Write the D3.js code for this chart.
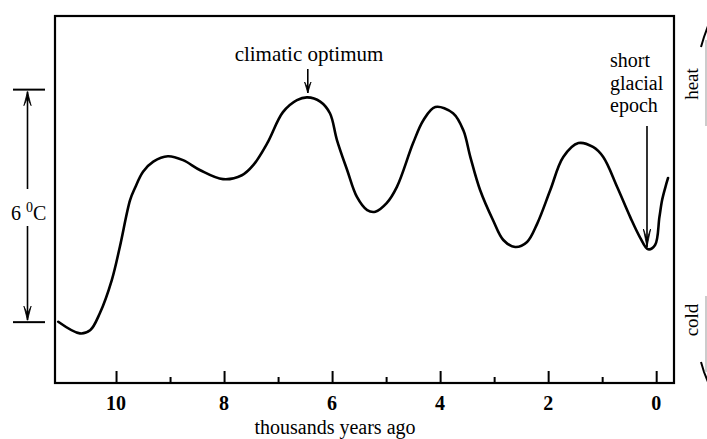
<!DOCTYPE html>
<html>
<head>
<meta charset="utf-8">
<script src="https://cdn.jsdelivr.net/npm/d3@7"></script>
<style>
  html, body { margin: 0; padding: 0; background: #fff; }
  svg { display: block; }
  text { font-family: "Liberation Serif", "Times New Roman", serif; fill: #000; }
</style>
</head>
<body>
<svg id="chart" width="707" height="439"></svg>
<script>
// ---- data (thousands of years ago, relative temperature in °C) ----
const years = [11.07, 10.67, 10.48, 10.30, 10.08, 9.93, 9.74, 9.65, 9.50, 9.31, 9.04, 8.76, 8.44, 8.02, 7.67, 7.46, 7.20, 6.91, 6.65, 6.46, 6.22, 6.04, 5.91, 5.72, 5.54, 5.35, 5.20, 4.99, 4.80, 4.50, 4.31, 4.09, 3.76, 3.57, 3.44, 3.26, 3.02, 2.83, 2.61, 2.39, 2.20, 1.96, 1.72, 1.44, 1.17, 0.98, 0.72, 0.48, 0.30, 0.15, 0.02, -0.06, -0.11, -0.17, -0.22];
const temps = [0.01, -0.29, -0.21, 0.23, 1.08, 1.94, 3.15, 3.46, 3.88, 4.14, 4.28, 4.18, 3.92, 3.69, 3.79, 4.05, 4.62, 5.42, 5.73, 5.80, 5.69, 5.39, 4.70, 3.92, 3.23, 2.89, 2.85, 3.07, 3.49, 4.62, 5.21, 5.55, 5.39, 4.95, 4.26, 3.41, 2.63, 2.12, 1.94, 2.07, 2.55, 3.41, 4.26, 4.62, 4.52, 4.26, 3.48, 2.71, 2.19, 1.88, 1.99, 2.71, 3.15, 3.48, 3.72];
const majorTicks = [10, 8, 6, 4, 2, 0];
const minorTicks = [9, 7, 5, 3, 1];
const tickLabels = ["10", "8", "6", "4", "2", "0"];
const xTitle = "thousands years ago";
const bracketRange = [0, 6];          // the "6 °C" span
const optimumYear = 6.45;             // climatic optimum arrow
const glacialYear = 0.17;             // short glacial epoch arrow

// ---- layout ----
const box = { left: 55, right: 674, top: 16, bottom: 383 };
const svg = d3.select("#chart");

const x = d3.scaleLinear().domain([11.13, -0.33]).range([box.left, box.right]);
const y = d3.scaleLinear().domain([-1.57, 7.9]).range([box.bottom, box.top]);

// frame
svg.append("rect")
  .attr("x", box.left).attr("y", box.top)
  .attr("width", box.right - box.left).attr("height", box.bottom - box.top)
  .attr("fill", "none").attr("stroke", "#000").attr("stroke-width", 2.2);

// ticks (pointing inward)
const axisG = svg.append("g").attr("transform", `translate(0,${box.bottom})`);
const major = d3.axisTop(x).tickValues(majorTicks).tickSize(12).tickFormat("");
const minor = d3.axisTop(x).tickValues(minorTicks).tickSize(6).tickFormat("");
axisG.append("g").call(major).call(g => g.select(".domain").remove())
  .selectAll("line").attr("stroke", "#000").attr("stroke-width", 2);
axisG.append("g").call(minor).call(g => g.select(".domain").remove())
  .selectAll("line").attr("stroke", "#000").attr("stroke-width", 2);

// tick labels
svg.append("g").selectAll("text").data(majorTicks).join("text")
  .attr("x", d => x(d)).attr("y", 410)
  .attr("text-anchor", "middle")
  .attr("font-size", 20).attr("font-weight", "bold")
  .text((d, i) => tickLabels[i]);

// axis title
svg.append("text")
  .attr("x", 335).attr("y", 434)
  .attr("text-anchor", "middle").attr("font-size", 20)
  .text(xTitle);

// curve
const pts = years.map((yr, i) => [yr, temps[i]]);
const line = d3.line().x(d => x(d[0])).y(d => y(d[1])).curve(d3.curveCatmullRom.alpha(0.5));
svg.append("path").datum(pts)
  .attr("d", line)
  .attr("fill", "none").attr("stroke", "#000").attr("stroke-width", 2.6)
  .attr("stroke-linejoin", "round").attr("stroke-linecap", "round");

// arrow helper: line from (x1,y1) to (x2,y2) with V head at (x2,y2)
function arrow(g, x1, y1, x2, y2, headLen, headW, sw) {
  g.append("line").attr("x1", x1).attr("y1", y1).attr("x2", x2).attr("y2", y2)
    .attr("stroke", "#000").attr("stroke-width", sw);
  const ang = Math.atan2(y2 - y1, x2 - x1);
  const bx = x2 - headLen * Math.cos(ang), by = y2 - headLen * Math.sin(ang);
  const px = -Math.sin(ang) * headW, py = Math.cos(ang) * headW;
  g.append("path")
    .attr("d", `M${bx + px},${by + py} L${x2},${y2} L${bx - px},${by - py} L${x2 - (headLen*0.45)*Math.cos(ang)},${y2 - (headLen*0.45)*Math.sin(ang)} Z`)
    .attr("fill", "#000").attr("stroke", "#000").attr("stroke-width", 0.8).attr("stroke-linejoin", "miter");
}

// left "6 °C" bracket
const ann = svg.append("g");
const yTop = y(bracketRange[1]), yBot = y(bracketRange[0]);
[yTop, yBot].forEach(v => ann.append("line")
  .attr("x1", 13).attr("x2", 45).attr("y1", v).attr("y2", v)
  .attr("stroke", "#000").attr("stroke-width", 2));
arrow(ann, 27.5, 189, 27.5, yTop + 2, 14, 3.6, 1.6);
arrow(ann, 27.5, 226, 27.5, yBot - 2, 14, 3.6, 1.6);
const lbl = ann.append("text").attr("x", 11).attr("y", 220).attr("font-size", 20);
lbl.append("tspan").text("6 ");
lbl.append("tspan").attr("font-size", 14).attr("dy", -8).text("0");
lbl.append("tspan").attr("dy", 8).text("C");

// climatic optimum
svg.append("text").attr("x", 309).attr("y", 61)
  .attr("text-anchor", "middle").attr("font-size", 21)
  .text("climatic optimum");
arrow(svg, x(optimumYear), 69, x(optimumYear), 93, 11, 3.2, 1.6);

// short glacial epoch
const ge = svg.append("text").attr("x", 610).attr("y", 67).attr("font-size", 20);
["short", "glacial", "epoch"].forEach((t, i) =>
  ge.append("tspan").attr("x", 610).attr("dy", i === 0 ? 0 : 22.5).text(t));
arrow(svg, x(glacialYear), 126, x(glacialYear), 247, 18, 3.6, 1.6);

// heat / cold on the right
svg.append("text").attr("transform", "translate(698,84) rotate(-90)")
  .attr("text-anchor", "middle").attr("font-size", 19).text("heat");
svg.append("text").attr("transform", "translate(698,320) rotate(-90)")
  .attr("text-anchor", "middle").attr("font-size", 19).text("cold");
svg.append("line").attr("x1", 706).attr("x2", 706).attr("y1", 40).attr("y2", 126)
  .attr("stroke", "#999").attr("stroke-width", 1);
svg.append("path").attr("d", "M701,47 L704,37 L708,26")
  .attr("fill", "none").attr("stroke", "#000").attr("stroke-width", 2);
svg.append("line").attr("x1", 706).attr("x2", 706).attr("y1", 296).attr("y2", 372)
  .attr("stroke", "#999").attr("stroke-width", 1);
svg.append("path").attr("d", "M701,362 L704,372 L708,382")
  .attr("fill", "none").attr("stroke", "#000").attr("stroke-width", 2);
</script>
</body>
</html>
